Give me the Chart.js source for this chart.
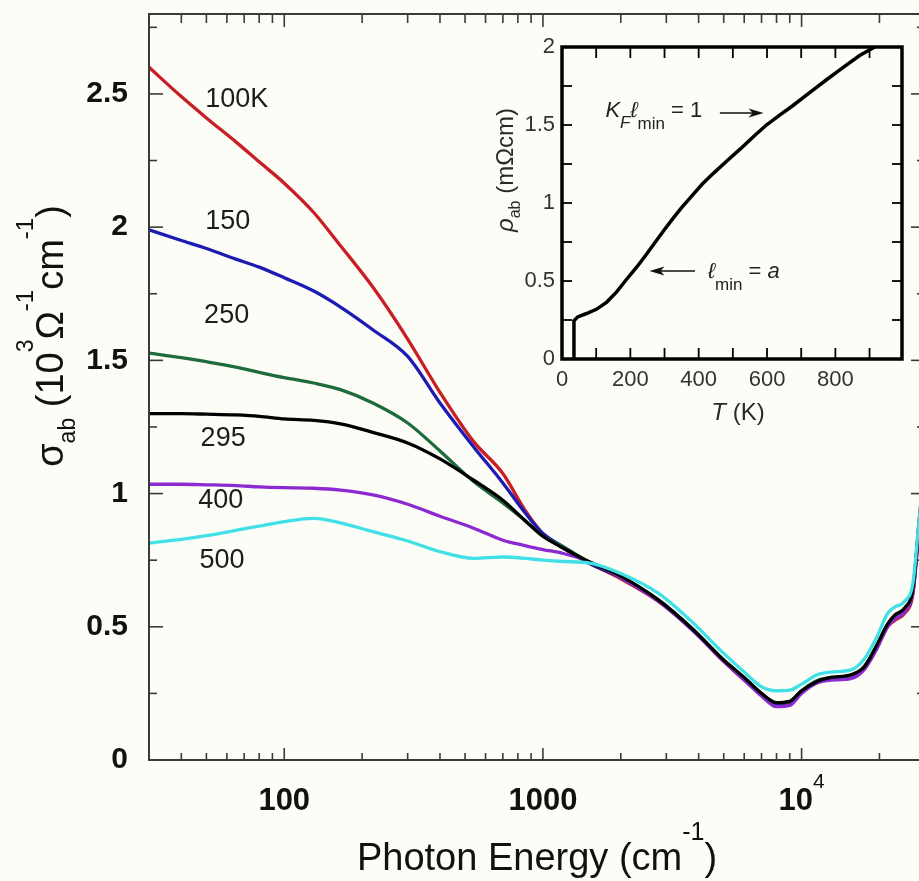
<!DOCTYPE html>
<html>
<head>
<meta charset="utf-8">
<script src="https://cdn.jsdelivr.net/npm/chart.js@4.4.1/dist/chart.umd.min.js"></script>
<style>
    html, body { margin: 0; padding: 0; background: #fdfdf7; overflow: hidden; }
    #wrap { position: relative; width: 919px; height: 881px; overflow: hidden; }
    #main { position: absolute; left: 0; top: 0; }
    #inset { position: absolute; left: 470px; top: 30px; }
</style>
</head>
<body>
<div id="wrap">
    <canvas id="main" width="935" height="881"></canvas>
    <canvas id="inset" width="440" height="400"></canvas>
</div>
<script>
// ---- main panel data: sigma_ab (10^3 1/(Ohm cm)) vs photon energy (cm^-1)
const energy = [30, 40, 50, 65, 80, 100, 130, 165, 220, 300, 400, 540, 700, 850, 1000, 1200, 1500,
    2000, 2800, 3800, 5000, 6000, 7000, 8000, 9000, 10000, 11500, 13000, 15500, 17500, 19500,
    21500, 23000, 25000, 27000, 28500, 30000];

const sigma100K = [2.60, 2.49, 2.41, 2.32, 2.245, 2.165, 2.055, 1.93, 1.775, 1.58, 1.38, 1.195, 1.075, 0.94, 0.85, 0.795, 0.74,
    0.68, 0.595, 0.49, 0.37, 0.30, 0.245, 0.21, 0.215, 0.255, 0.295, 0.305, 0.31, 0.35, 0.42,
    0.50, 0.525, 0.55, 0.63, 0.88, 1.10];
const sigma150K = [1.99, 1.95, 1.92, 1.88, 1.85, 1.81, 1.76, 1.70, 1.615, 1.515, 1.34, 1.175, 1.04, 0.93, 0.85, 0.80, 0.74,
    0.685, 0.60, 0.49, 0.372, 0.305, 0.248, 0.212, 0.218, 0.258, 0.297, 0.308, 0.315, 0.352, 0.425,
    0.505, 0.535, 0.56, 0.64, 0.89, 1.11];
const sigma250K = [1.527, 1.51, 1.495, 1.475, 1.455, 1.435, 1.415, 1.39, 1.34, 1.265, 1.16, 1.045, 0.965, 0.90, 0.84, 0.80, 0.745,
    0.688, 0.60, 0.49, 0.375, 0.308, 0.25, 0.215, 0.22, 0.26, 0.298, 0.31, 0.318, 0.352, 0.428,
    0.508, 0.54, 0.565, 0.645, 0.895, 1.11];
const sigma295K = [1.30, 1.30, 1.298, 1.295, 1.29, 1.28, 1.275, 1.262, 1.23, 1.19, 1.13, 1.05, 0.975, 0.90, 0.84, 0.795, 0.745,
    0.69, 0.60, 0.49, 0.375, 0.31, 0.25, 0.215, 0.22, 0.26, 0.295, 0.31, 0.32, 0.35, 0.43,
    0.51, 0.545, 0.57, 0.65, 0.90, 1.12];
const sigma400K = [1.035, 1.035, 1.033, 1.03, 1.025, 1.022, 1.02, 1.013, 0.995, 0.96, 0.915, 0.87, 0.825, 0.805, 0.79, 0.775, 0.745,
    0.685, 0.595, 0.485, 0.37, 0.30, 0.24, 0.20, 0.205, 0.25, 0.29, 0.30, 0.305, 0.34, 0.415,
    0.50, 0.53, 0.555, 0.64, 0.88, 1.10];
const sigma500K = [0.814, 0.828, 0.842, 0.862, 0.878, 0.895, 0.907, 0.89, 0.857, 0.822, 0.782, 0.757, 0.762, 0.757, 0.75, 0.745, 0.74,
    0.70, 0.625, 0.515, 0.40, 0.33, 0.275, 0.26, 0.262, 0.285, 0.32, 0.33, 0.338, 0.38, 0.46,
    0.55, 0.575, 0.595, 0.67, 0.91, 1.13];

const seriesNames = ['100K', '150', '250', '295', '400', '500'];
const seriesValues = [sigma100K, sigma150K, sigma250K, sigma295K, sigma400K, sigma500K];
const seriesColors = ['#c81e24', '#1c1cb4', '#1e6b3c', '#000000', '#8c2ad2', '#40e0e6'];
const drawOrder = [5, 4, 3, 1, 2, 0];   // lowest is drawn on top

// where the temperature labels sit (energy, sigma)
const labelEnergy = [49.5, 49.5, 49, 47.5, 46.5, 47];
const labelSigma = [2.48, 2.02, 1.67, 1.205, 0.972, 0.75];

const xTickValues = [100, 1000, 10000];
const yTickValues = [0, 0.5, 1, 1.5, 2, 2.5];

// ---- inset data: rho_ab (mOhm cm) vs T (K)
const insetT = [35, 35, 46, 70, 102, 131, 160, 185, 219, 245, 270, 300, 326, 350, 384, 410, 443, 480,
    521, 560, 598, 640, 676, 720, 774, 820, 871, 915];
const insetRho = [0, 0.245, 0.27, 0.29, 0.32, 0.365, 0.43, 0.50, 0.59, 0.665, 0.74, 0.83, 0.905, 0.97, 1.055, 1.12, 1.19, 1.265,
    1.345, 1.425, 1.50, 1.568, 1.625, 1.70, 1.79, 1.865, 1.945, 2.0];
const insetXTicks = [0, 200, 400, 600, 800];
const insetYTicks = [0, 0.5, 1, 1.5, 2];

const FONT = '"Liberation Sans", Arial, Helvetica, sans-serif';
const BG = '#fdfdf7';

// draws a row of text pieces [text, font, dy] as one string
function drawParts(ctx, parts, x, y, align) {
    let w = 0;
    parts.forEach(p => { ctx.font = p[1]; w += ctx.measureText(p[0]).width; });
    let cx = align === 'center' ? x - w / 2 : (align === 'right' ? x - w : x);
    ctx.textAlign = 'left';
    ctx.textBaseline = 'alphabetic';
    parts.forEach(p => {
        ctx.font = p[1];
        ctx.fillText(p[0], cx, y + (p[2] || 0));
        cx += ctx.measureText(p[0]).width;
    });
}

function tick(ctx, x1, y1, x2, y2) {
    ctx.beginPath();
    ctx.moveTo(x1, y1);
    ctx.lineTo(x2, y2);
    ctx.stroke();
}

function arrow(ctx, x1, y, x2) {
    const dir = x2 > x1 ? 1 : -1;
    ctx.lineWidth = 1.6;
    tick(ctx, x1, y, x2 - dir * 8, y);
    ctx.beginPath();
    ctx.moveTo(x2, y);
    ctx.lineTo(x2 - dir * 15, y - 4.5);
    ctx.lineTo(x2 - dir * 11, y);
    ctx.lineTo(x2 - dir * 15, y + 4.5);
    ctx.closePath();
    ctx.fill();
}

const mainDecor = {
    id: 'mainDecor',
    beforeDraw(chart) {
        const c = chart.ctx;
        c.save();
        c.fillStyle = BG;
        c.fillRect(0, 0, chart.width, chart.height);
        c.restore();
    },
    afterDraw(chart) {
        const { ctx, chartArea: a, scales: { x, y } } = chart;
        ctx.save();
        ctx.strokeStyle = '#3a3a3a';
        ctx.lineWidth = 2;
        ctx.strokeRect(a.left, a.top, a.right - a.left, a.bottom - a.top);

        // inward ticks, all four sides
        ctx.lineWidth = 1.6;
        for (let d = 10; d <= 10000; d *= 10) {
            for (let k = 1; k <= 9; k++) {
                const v = k * d;
                if (v < 30 || v > 30000) continue;
                const px = x.getPixelForValue(v);
                tick(ctx, px, a.bottom, px, a.bottom - (k === 1 ? 12 : 7));
                tick(ctx, px, a.top, px, a.top + (k === 1 ? 13 : 9));
            }
        }
        for (let i = 1; i * 0.25 < 2.8; i++) {
            const py = y.getPixelForValue(i * 0.25);
            const len = i % 2 === 0 ? 14 : 8;
            tick(ctx, a.left, py, a.left + len, py);
            tick(ctx, a.right, py, a.right - len, py);
        }

        // x tick labels
        ctx.fillStyle = '#111';
        xTickValues.forEach(v => {
            const px = x.getPixelForValue(v);
            if (v >= 10000) {
                const exp = Math.round(Math.log10(v));
                drawParts(ctx, [['10', 'bold 31px ' + FONT], [String(exp), '21px ' + FONT, -22]], px, 810, 'center');
            } else {
                drawParts(ctx, [[String(v), 'bold 31px ' + FONT]], px, 810, 'center');
            }
        });

        // axis titles
        drawParts(ctx, [
            ['Photon Energy (cm', '38px ' + FONT],
            ['-1', '25px ' + FONT, -30],
            [')', '38px ' + FONT]
        ], (a.left + a.right) / 2, a.bottom + 110, 'center');

        ctx.save();
        ctx.translate(63, a.top + 322);
        ctx.rotate(-Math.PI / 2);
        drawParts(ctx, [
            ['\u03c3', '38px ' + FONT],
            ['ab', '23px ' + FONT, 12],
            [' (10', '38px ' + FONT],
            ['3', '23px ' + FONT, -30],
            ['\u03a9', '38px ' + FONT],
            ['-1', '24px ' + FONT, -30],
            ['cm', '38px ' + FONT],
            ['-1', '24px ' + FONT, -30],
            [')', '38px ' + FONT]
        ], 0, 0, 'center');
        ctx.restore();

        // temperature labels
        ctx.fillStyle = '#1c1c1c';
        ctx.font = '27px ' + FONT;
        ctx.textAlign = 'left';
        ctx.textBaseline = 'middle';
        seriesNames.forEach((n, i) => {
            ctx.fillText(n, x.getPixelForValue(labelEnergy[i]), y.getPixelForValue(labelSigma[i]));
        });
        ctx.restore();
    }
};

new Chart(document.getElementById('main'), {
    type: 'line',
    data: {
        datasets: seriesNames.map((name, i) => ({
            label: name,
            data: energy.map((e, j) => ({ x: e, y: seriesValues[i][j] })),
            borderColor: seriesColors[i],
            borderWidth: 3.3,
            pointRadius: 0,
            fill: false,
            cubicInterpolationMode: 'monotone',
            order: drawOrder[i]
        }))
    },
    options: {
        responsive: false,
        animation: false,
        layout: { padding: { top: 14, right: 10, bottom: 0, left: 0 } },
        plugins: { legend: { display: false }, tooltip: { enabled: false } },
        scales: {
            x: {
                type: 'logarithmic',
                min: 30,
                max: 30000,
                grid: { display: false, drawTicks: false },
                border: { display: false },
                ticks: { display: false },
                afterFit: s => { s.height = 121; s.paddingLeft = 0; s.paddingRight = 0; }
            },
            y: {
                min: 0,
                max: 2.8,
                grid: { display: false, drawTicks: false },
                border: { display: false },
                ticks: {
                    font: { family: FONT, size: 30, weight: 'bold' },
                    color: '#111',
                    padding: 21,
                    callback: v => String(v)
                },
                afterBuildTicks: s => { s.ticks = yTickValues.map(v => ({ value: v })); },
                afterFit: s => { s.width = 149; s.paddingTop = 0; s.paddingBottom = 0; }
            }
        }
    },
    plugins: [mainDecor]
});

// ---- inset
const insetDecor = {
    id: 'insetDecor',
    afterDraw(chart) {
        const { ctx, chartArea: a, scales: { x, y } } = chart;
        ctx.save();
        ctx.strokeStyle = '#000';
        ctx.fillStyle = '#000';
        ctx.lineWidth = 1.8;
        for (let v = 100; v < 995; v += 100) {
            const px = x.getPixelForValue(v);
            tick(ctx, px, a.bottom, px, a.bottom - 11);
            tick(ctx, px, a.top, px, a.top + 11);
        }
        for (let i = 1; i < 8; i++) {
            const py = y.getPixelForValue(i * 0.25);
            tick(ctx, a.left, py, a.left + 10, py);
            tick(ctx, a.right, py, a.right - 10, py);
        }
        ctx.lineWidth = 3.5;
        ctx.strokeRect(a.left, a.top, a.right - a.left, a.bottom - a.top);

        // titles
        ctx.fillStyle = '#2a2a2a';
        drawParts(ctx, [['T', 'italic 24px ' + FONT], [' (K)', '24px ' + FONT]],
            (a.left + a.right) / 2 + 6, a.bottom + 61, 'center');
        ctx.save();
        ctx.translate(a.left - 49, a.top + 123);
        ctx.rotate(-Math.PI / 2);
        drawParts(ctx, [
            ['\u03c1', 'italic 24px ' + FONT],
            ['ab', '16px ' + FONT, 7],
            [' (m\u03a9cm)', '24px ' + FONT]
        ], 0, 0, 'center');
        ctx.restore();

        // annotations
        ctx.fillStyle = '#222';
        ctx.strokeStyle = '#111';
        drawParts(ctx, [
            ['K', 'italic 22px ' + FONT],
            ['F', 'italic 17px ' + FONT, 11],
            ['\u2113', 'italic 22px ' + FONT],
            ['min', '17px ' + FONT, 12],
            [' = 1', '22px ' + FONT]
        ], x.getPixelForValue(127), y.getPixelForValue(1.551), 'left');
        drawParts(ctx, [
            ['\u2113', 'italic 22px ' + FONT],
            ['min', '17px ' + FONT, 12],
            [' = ', '22px ' + FONT],
            ['a', 'italic 22px ' + FONT]
        ], x.getPixelForValue(427), y.getPixelForValue(0.519), 'left');
        ctx.fillStyle = '#111';
        arrow(ctx, x.getPixelForValue(462), y.getPixelForValue(1.577), x.getPixelForValue(590));
        arrow(ctx, x.getPixelForValue(389), y.getPixelForValue(0.564), x.getPixelForValue(256));
        ctx.restore();
    }
};

new Chart(document.getElementById('inset'), {
    type: 'scatter',
    data: {
        datasets: [{
            data: insetT.map((t, i) => ({ x: t, y: insetRho[i] })),
            showLine: true,
            borderColor: '#000',
            borderWidth: 3.5,
            pointRadius: 0,
            tension: 0
        }]
    },
    options: {
        responsive: false,
        animation: false,
        layout: { padding: { top: 17, right: 8, bottom: 0, left: 0 } },
        plugins: { legend: { display: false }, tooltip: { enabled: false } },
        scales: {
            x: {
                type: 'linear',
                min: 0,
                max: 995,
                grid: { display: false, drawTicks: false },
                border: { display: false },
                ticks: { font: { family: FONT, size: 22 }, color: '#333', padding: 8, callback: v => String(v) },
                afterBuildTicks: s => { s.ticks = insetXTicks.map(v => ({ value: v })); },
                afterFit: s => { s.height = 71; s.paddingLeft = 0; s.paddingRight = 0; }
            },
            y: {
                min: 0,
                max: 2,
                grid: { display: false, drawTicks: false },
                border: { display: false },
                ticks: { font: { family: FONT, size: 22 }, color: '#333', padding: 7, callback: v => String(v) },
                afterBuildTicks: s => { s.ticks = insetYTicks.map(v => ({ value: v })); },
                afterFit: s => { s.width = 92; s.paddingTop = 0; s.paddingBottom = 0; }
            }
        }
    },
    plugins: [insetDecor]
});
</script>
</body>
</html>
